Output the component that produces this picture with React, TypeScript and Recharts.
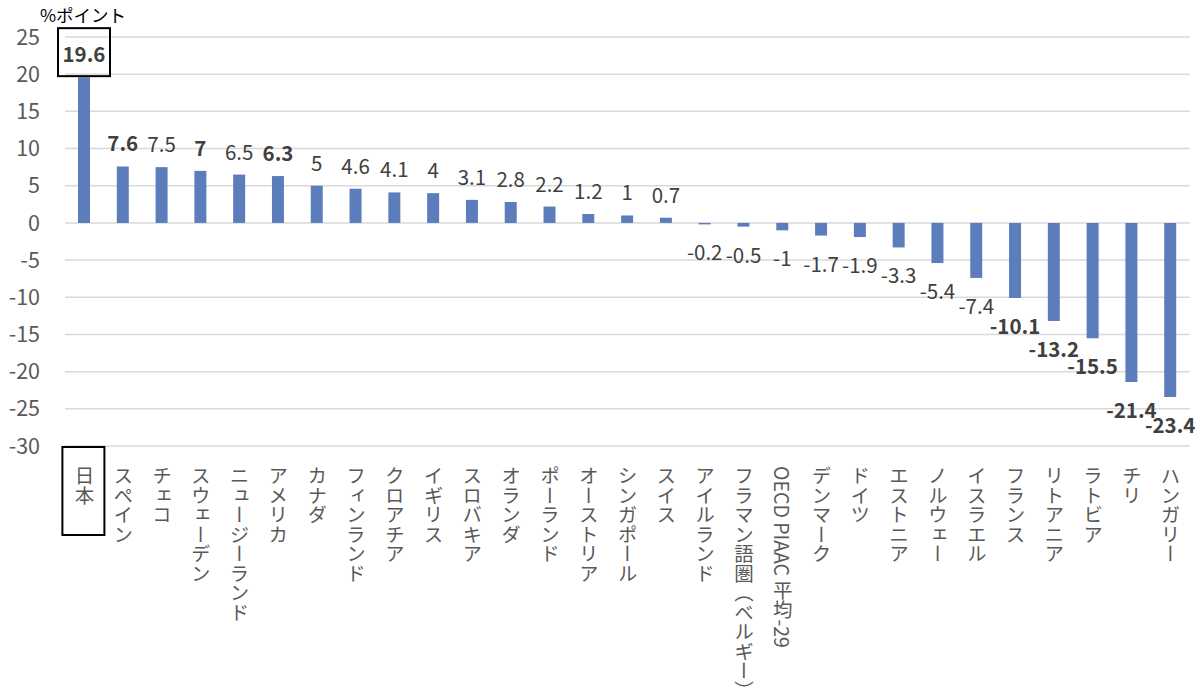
import React from 'react';
import { BarChart, Bar, XAxis, YAxis, CartesianGrid, LabelList } from 'recharts';

const countries = [
  '日本', 'スペイン', 'チェコ', 'スウェーデン', 'ニュージーランド', 'アメリカ', 'カナダ',
  'フィンランド', 'クロアチア', 'イギリス', 'スロバキア', 'オランダ', 'ポーランド',
  'オーストリア', 'シンガポール', 'スイス', 'アイルランド', 'フラマン語圏（ベルギー）',
  'OECD PIAAC 平均-29', 'デンマーク', 'ドイツ', 'エストニア', 'ノルウェー', 'イスラエル',
  'フランス', 'リトアニア', 'ラトビア', 'チリ', 'ハンガリー',
];

const changes = [
  19.6, 7.6, 7.5, 7, 6.5, 6.3, 5, 4.6, 4.1, 4, 3.1, 2.8, 2.2, 1.2, 1, 0.7,
  -0.2, -0.5, -1, -1.7, -1.9, -3.3, -5.4, -7.4, -10.1, -13.2, -15.5, -21.4, -23.4,
];

const emphasized = ['日本', 'スペイン', 'スウェーデン', 'アメリカ', 'フランス', 'リトアニア', 'ラトビア', 'チリ', 'ハンガリー'];

const yTicks = [-30, -25, -20, -15, -10, -5, 0, 5, 10, 15, 20, 25];

const data = countries.map((name, i) => ({ name, value: changes[i] }));

const FONT = '"Noto Sans CJK JP", "Noto Sans", sans-serif';

const CountryTick = (props: any) => {
  const { x, y, payload, index } = props;
  return (
    <g>
      {index === 0 && (
        <rect x={x - 22} y={y - 7} width={42} height={88} fill="none" stroke="#000" strokeWidth={2} />
      )}
      <text
        x={x}
        y={y + 12}
        fill="#595959"
        fontSize={19.5}
        fontFamily={FONT}
        style={{ writingMode: 'vertical-rl' }}
        textAnchor="start"
      >
        {payload.value}
      </text>
    </g>
  );
};

const ValueLabel = (props: any) => {
  const { x, y, width, height, value, index } = props;
  const top = Math.min(y, y + height);
  const bottom = Math.max(y, y + height);
  const cx = x + width / 2;
  const cy = value >= 0 ? top - 24 : bottom + 27;
  const bold = emphasized.includes(countries[index]);
  return (
    <g>
      {index === 0 && (
        <rect x={cx - 26} y={cy - 25} width={52} height={48} fill="none" stroke="#000" strokeWidth={2} />
      )}
      <text
        x={cx}
        y={cy}
        textAnchor="middle"
        dominantBaseline="central"
        fill="#404040"
        fontSize={20.5}
        fontWeight={bold ? 700 : 400}
        fontFamily={FONT}
      >
        {value}
      </text>
    </g>
  );
};

export default function App() {
  return (
    <div style={{ position: 'absolute', left: 0, top: 0, width: 1200, height: 700, background: '#fff' }}>
      <BarChart
        width={1200}
        height={700}
        data={data}
        margin={{ top: 37, right: 10, left: 5, bottom: 4 }}
      >
        <CartesianGrid vertical={false} stroke="#D9D9D9" strokeWidth={1.5} />
        <XAxis
          dataKey="name"
          orientation="bottom"
          axisLine={false}
          tickLine={false}
          interval={0}
          height={250}
          tick={<CountryTick />}
        />
        <YAxis
          width={60}
          domain={[-30, 25]}
          ticks={yTicks}
          axisLine={false}
          tickLine={false}
          tickMargin={19}
          tick={{ fill: '#595959', fontSize: 21.5, fontFamily: FONT }}
        />
        <Bar dataKey="value" fill="#5B7DBB" barSize={12} isAnimationActive={false}>
          <LabelList dataKey="value" content={<ValueLabel />} />
        </Bar>
        <text x={40} y={22} fontSize={17.5} fill="#000" fontFamily={FONT}>%ポイント</text>
      </BarChart>
    </div>
  );
}
